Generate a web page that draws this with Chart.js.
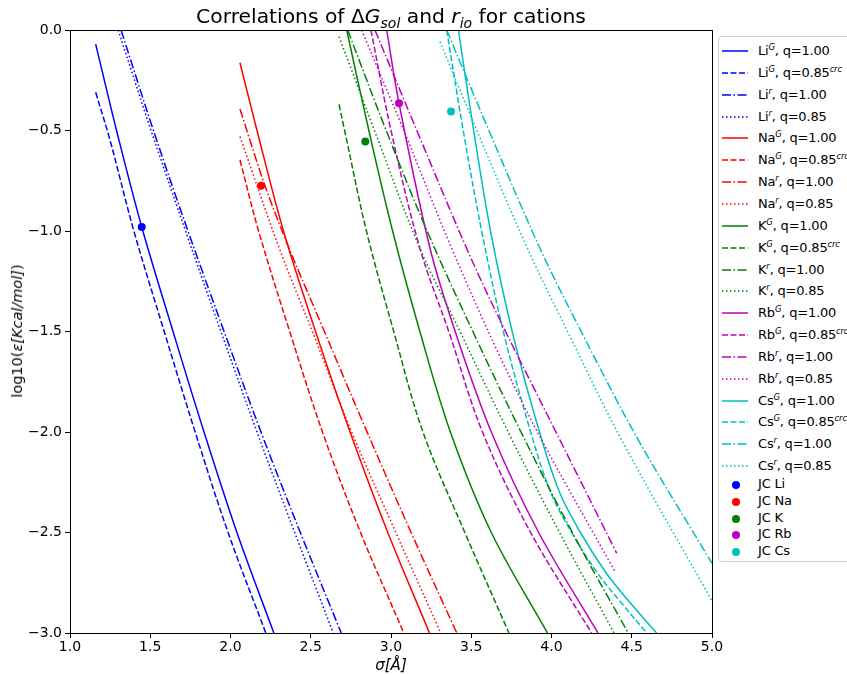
<!DOCTYPE html>
<html>
<head>
<meta charset="utf-8">
<script src="https://cdn.jsdelivr.net/npm/chart.js@4"></script>
<style>
  body { margin: 0; background: #fff; font-family: "DejaVu Sans", sans-serif; }
  #wrap { position: relative; width: 847px; height: 675px; overflow: hidden; }
  #chart { position: absolute; left: 0; top: 0; }
  #title { position: absolute; left: 70px; width: 642px; top: 4px; text-align: center; font-size: 20.3px; color: #000; }
  #title sub { font-size: 14px; font-style: italic; }
  #ylab { position: absolute; left: 17px; top: 331px; transform: translate(-50%, -50%) rotate(-90deg); font-size: 14.5px; white-space: nowrap; color: #000; }
  #legend { position: absolute; left: 718px; top: 36px; width: 150px; height: 524px; border: 1px solid #d0d0d0; border-radius: 4px; background: #fff; }
  .row { position: absolute; left: 0; height: 20px; font-size: 13px; letter-spacing: -0.2px; color: #000; white-space: nowrap; }
  .row svg { position: absolute; left: 3px; top: 4px; }
  .row span { position: absolute; left: 39px; top: 1px; }
  .row sup { font-size: 8.5px; font-style: italic; }
</style>
</head>
<body>
<div id="wrap">
  <canvas id="chart" width="847" height="675"></canvas>
  <div id="title">Correlations of &Delta;<i>G</i><sub>sol</sub> and <i>r</i><sub>io</sub> for cations</div>
  <div id="ylab">log10(<i>ε[Kcal/mol]</i>)</div>
  <div id="legend"></div>
</div>
<script>
// curves: [sigma, log10(eps)]
const liG100 = [[1.16,-0.07],[1.29,-0.5],[1.447,-0.98],[1.642,-1.5],[1.835,-2.0],[2.04,-2.5],[2.27,-3.0]]
const liG085 = [[1.16,-0.31],[1.25,-0.55],[1.398,-1.0],[1.587,-1.5],[1.78,-2.0],[1.985,-2.5],[2.22,-3.0]]
const lir100 = [[1.318,0],[1.52,-0.5],[1.735,-1.0],[1.96,-1.5],[2.19,-2.0],[2.435,-2.5],[2.69,-3.0]]
const lir085 = [[1.30,0],[1.505,-0.5],[1.72,-1.0],[1.94,-1.5],[2.165,-2.0],[2.40,-2.5],[2.64,-3.0]]

const naG100 = [[2.059,-0.163],[2.165,-0.5],[2.33,-1.0],[2.53,-1.5],[2.745,-2.0],[2.98,-2.5],[3.24,-3.0]]
const naG085 = [[2.059,-0.647],[2.175,-1.0],[2.369,-1.5],[2.573,-2.0],[2.81,-2.5],[3.08,-3.0]]
const nar100 = [[2.059,-0.393],[2.215,-0.775],[2.37,-1.095],[2.585,-1.5],[2.81,-1.924],[3.125,-2.5],[3.41,-3.0]]
const nar085 = [[2.059,-0.53],[2.308,-1.095],[2.51,-1.5],[2.755,-2.0],[3.03,-2.5],[3.31,-3.0]]

const kG100 = [[2.724,0],[2.862,-0.5],[3.01,-1.0],[3.18,-1.5],[3.37,-2.0],[3.625,-2.5],[3.975,-3.0]]
const kG085 = [[2.676,-0.37],[2.711,-0.5],[2.847,-1.0],[3.017,-1.5],[3.199,-2.0],[3.46,-2.5],[3.735,-3.0]]
const kr100 = [[2.73,0],[2.97,-0.5],[3.225,-1.0],[3.51,-1.5],[3.81,-2.0],[4.13,-2.5],[4.478,-3.0]]
const kr085 = [[2.676,-0.033],[2.897,-0.5],[3.18,-1.086],[3.43,-1.5],[3.73,-2.0],[4.05,-2.5],[4.39,-3.0]]

const rbG100 = [[2.973,0],[3.05,-0.365],[3.243,-1.086],[3.40,-1.5],[3.625,-2.0],[3.92,-2.5],[4.29,-3.0]]
const rbG085 = [[2.875,0],[3.0,-0.5],[3.18,-1.086],[3.36,-1.5],[3.57,-2.0],[3.87,-2.5],[4.25,-3.0]]
const rbr100 = [[2.9,0],[3.161,-0.5],[3.471,-1.086],[3.679,-1.443],[4.053,-2.04],[4.406,-2.603]]
const rbr085 = [[2.817,0],[3.08,-0.5],[3.378,-1.086],[3.679,-1.625],[3.939,-2.04],[4.396,-2.695]]

const csG100 = [[3.42,0],[3.515,-0.5],[3.62,-1.0],[3.755,-1.5],[3.925,-2.0],[4.05,-2.3],[4.18,-2.5],[4.34,-2.7],[4.49,-2.85],[4.655,-3.0]]
const csG085 = [[3.347,0],[3.45,-0.5],[3.565,-1.0],[3.70,-1.5],[3.87,-2.0],[3.995,-2.3],[4.125,-2.5],[4.285,-2.7],[4.435,-2.85],[4.593,-3.0]]
const csr100 = [[3.347,0],[3.61,-0.5],[3.928,-1.086],[4.185,-1.5],[4.541,-2.04],[5.0,-2.653]]
const csr085 = [[3.305,-0.058],[3.535,-0.5],[3.85,-1.086],[4.10,-1.5],[4.437,-2.04],[5.0,-2.84]]

// JC reference points
const jcNames = ['JC Li', 'JC Na', 'JC K', 'JC Rb', 'JC Cs']
const jcSigma = [1.447, 2.19, 2.84, 3.05, 3.374]
const jcEps = [-0.98, -0.775, -0.555, -0.365, -0.406]

const ions = ['Li', 'Na', 'K', 'Rb', 'Cs']
const colors = ['#0000ff', '#ff0000', '#008000', '#bf00bf', '#00bfbf']
const curves = [
  [liG100, liG085, lir100, lir085],
  [naG100, naG085, nar100, nar085],
  [kG100, kG085, kr100, kr085],
  [rbG100, rbG085, rbr100, rbr085],
  [csG100, csG085, csr100, csr085]
]
const dashes = [[], [6, 2.5], [9, 2.5, 1.5, 2.5], [1.5, 2.5]]
const labelTails = [
  '<sup>G</sup>, q=1.00',
  '<sup>G</sup>, q=0.85<sup>crc</sup>',
  '<sup>r</sup>, q=1.00',
  '<sup>r</sup>, q=0.85'
]

const datasets = []
const legendRows = []
ions.forEach((ion, i) => {
  curves[i].forEach((pts, k) => {
    datasets.push({
      label: ion + ' ' + k,
      data: pts.map(p => ({x: p[0], y: p[1]})),
      showLine: true,
      borderColor: colors[i],
      borderWidth: 1.5,
      borderDash: dashes[k],
      pointRadius: 0,
      tension: 0.35,
      fill: false
    })
    legendRows.push({html: ion + labelTails[k], color: colors[i], dash: dashes[k]})
  })
})
jcNames.forEach((name, i) => {
  datasets.push({
    label: name,
    data: [{x: jcSigma[i], y: jcEps[i]}],
    showLine: false,
    pointRadius: 4,
    pointBackgroundColor: colors[i],
    pointBorderColor: colors[i],
    pointBorderWidth: 0
  })
})

const frame = {
  id: 'frame',
  afterDraw(chart) {
    const a = chart.chartArea
    const ctx = chart.ctx
    ctx.save()
    ctx.strokeStyle = '#000'
    ctx.lineWidth = 1
    ctx.strokeRect(Math.round(a.left) + 0.5, Math.round(a.top) + 0.5, Math.round(a.right - a.left), Math.round(a.bottom - a.top))
    ctx.restore()
  }
}

const ctx = document.getElementById('chart').getContext('2d')
new Chart(ctx, {
  type: 'scatter',
  data: {datasets},
  options: {
    responsive: false,
    animation: false,
    layout: {padding: {top: 30, right: 135, left: 0, bottom: 0}},
    plugins: {legend: {display: false}, tooltip: {enabled: false}},
    scales: {
      x: {
        min: 1, max: 5,
        afterFit: s => { s.height = 42 },
        ticks: {stepSize: 0.5, color: '#000', font: {family: 'DejaVu Sans', size: 14}, padding: 1,
          callback: v => v.toFixed(1)},
        grid: {drawOnChartArea: false, color: '#000', tickLength: 5},
        border: {color: '#000'},
        title: {display: true, text: 'σ[Å]', color: '#000', padding: {top: 0, bottom: 0},
          font: {family: 'DejaVu Sans', size: 15, style: 'italic'}}
      },
      y: {
        min: -3, max: 0,
        afterFit: s => { s.width = 70 },
        ticks: {stepSize: 0.5, color: '#000', font: {family: 'DejaVu Sans', size: 14}, padding: 3,
          callback: v => (v < 0 ? '\u2212' : '') + Math.abs(v).toFixed(1)},
        grid: {drawOnChartArea: false, color: '#000', tickLength: 5},
        border: {color: '#000'}
      }
    }
  },
  plugins: [frame]
})

// legend built as html so the superscripts stay real text
const legend = document.getElementById('legend')
legendRows.forEach((r, i) => {
  const row = document.createElement('div')
  row.className = 'row'
  row.style.top = (50 + i * 21.85 - 36 - 10) + 'px'
  row.innerHTML = `<svg width="28" height="12"><line x1="0" y1="6" x2="26" y2="6" stroke="${r.color}" stroke-width="1.5" stroke-dasharray="${r.dash.length ? r.dash.join(' ') : 'none'}"/></svg><span>${r.html}</span>`
  legend.appendChild(row)
})
jcNames.forEach((name, i) => {
  const row = document.createElement('div')
  row.className = 'row'
  row.style.top = (484 + i * 16.8 - 36 - 10) + 'px'
  row.innerHTML = `<svg width="28" height="12"><circle cx="14" cy="6" r="4" fill="${colors[i]}"/></svg><span>${name}</span>`
  legend.appendChild(row)
})
</script>
</body>
</html>
